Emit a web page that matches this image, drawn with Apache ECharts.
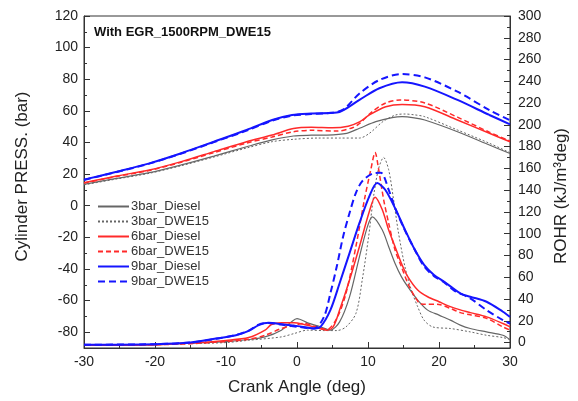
<!DOCTYPE html>
<html>
<head>
<meta charset="utf-8">
<script src="https://cdn.jsdelivr.net/npm/echarts@6/dist/echarts.min.js"></script>
<style>html,body{margin:0;padding:0;background:#fff}#c{width:578px;height:401px}</style>
</head>
<body>
<div id="c"></div>
<script>
// ---------- data ----------
var seriesNames = ['3bar_Diesel', '3bar_DWE15', '6bar_Diesel', '6bar_DWE15', '9bar_Diesel', '9bar_DWE15'];
var xTicks = [-30, -20, -10, 0, 10, 20, 30];
var pressTicks = [-80, -60, -40, -20, 0, 20, 40, 60, 80, 100, 120];
var pressMinorTicks = [-90, -70, -50, -30, -10, 10, 30, 50, 70, 90, 110];
var rohrTicks = [0, 20, 40, 60, 80, 100, 120, 140, 160, 180, 200, 220, 240, 260, 280, 300];
var rohrMinorTicks = [10, 30, 50, 70, 90, 110, 130, 150, 170, 190, 210, 230, 250, 270, 290];

// Cylinder pressure (bar) vs crank angle (deg)
var p3Diesel = [[-30,13.5],[-25.4,17.3],[-20.8,20.9],[-16.3,25.8],[-11.7,31.4],[-7.1,37.3],[-3.5,41.6],[-0.5,44.1],[2,44.6],[4.2,44.7],[7,45.8],[8.8,49],[11.1,53.2],[13.4,55.7],[14.8,56.3],[16.5,55.6],[18,54.2],[22.6,46.8],[27.1,38.4],[30,33]];
var p3DWE = [[-30,13.2],[-25.4,16.9],[-20.8,20.5],[-16.3,25.3],[-11.7,30.8],[-7.1,36.5],[-3.5,40.5],[-0.5,42],[3,42.8],[6,42.8],[8.8,42.8],[10.2,45.8],[12.1,53.2],[13.9,57.4],[15.2,58],[16.5,57.5],[18,56.3],[22.6,47.9],[27.1,39.5],[30,33.5]];
var p6Diesel = [[-30,14.5],[-25.4,18.8],[-20.8,22.6],[-16.3,27.9],[-11.7,34.2],[-7.1,40.5],[-3.5,44.7],[-0.5,48.8],[2,49.6],[5,49.3],[7.2,50.3],[8.8,53],[10.2,57.4],[12.5,62.6],[14.8,64.1],[18,62.6],[22.6,54.2],[27.1,45.8],[30,40.5]];
var p6DWE = [[-30,14.3],[-25.4,18.5],[-20.8,22.3],[-16.3,27.5],[-11.7,33.6],[-7.1,39.6],[-3.5,43.5],[-0.5,46.8],[2,47.7],[5.6,47.2],[7.9,49.5],[8.8,52],[10.6,59.5],[12.5,65],[14.5,66.9],[18,65],[22.6,56],[27.1,46.5],[30,41]];
var p9Diesel = [[-30,16.5],[-25.4,21.5],[-20.8,26.8],[-16.3,33.2],[-11.7,40.5],[-7.1,47.9],[-3.5,54.2],[-0.7,57.4],[2,58.3],[5.6,58.9],[8.8,67],[11.6,74.3],[14.8,78.1],[18,75.3],[22.6,66.9],[27.1,57.4],[30,51.5]];
var p9DWE = [[-30,16.3],[-25.4,21.3],[-20.8,26.6],[-16.3,33],[-11.7,40.2],[-7.1,47.5],[-3.5,53.8],[-0.7,57],[2,58],[4.5,58.6],[6.5,60.8],[8.8,71],[11.6,79.5],[14.8,83.3],[18,81.2],[22.6,72.1],[27.1,60.5],[30,54]];

// ROHR (kJ/m3deg) vs crank angle (deg)
var r3Diesel = [[-30,-2.5],[-20,-2],[-15,-0.5],[-10,0.8],[-6.8,2.8],[-4.5,5.2],[-2.2,11.4],[-0.8,19],[0,22],[1.5,18.1],[3.3,14.4],[4.7,11.4],[6,19],[7.4,42],[8.8,79],[9.9,106],[10.6,115.5],[12,103.7],[12.9,88.3],[13.8,72.9],[14.7,60.6],[15.6,51.3],[17,39],[18.4,29.8],[20,25.2],[21.6,20.6],[23,16],[24.4,12.9],[26.7,9.8],[29,6.7],[30,2.5]];
var r3DWE = [[-30,-2.5],[-20,-2],[-15,-1],[-10,0],[-6.8,2.1],[-2.2,5.2],[-0.4,8.3],[1.5,11.4],[3.8,11],[5.6,11],[6.9,14.4],[8.3,26.8],[9.2,58],[10.1,98],[10.8,135],[11.5,160],[12.2,170],[12.9,159],[13.6,131.4],[14.3,100.6],[15.2,69.8],[16.1,48.3],[17,32.9],[17.9,20.6],[19.1,14.4],[21.6,12.9],[24.4,9.8],[26.7,6.7],[29,4.6],[30,2.8]];
var r6Diesel = [[-30,-2.5],[-20,-2],[-15,-0.5],[-10,2],[-6.8,4.6],[-4.5,11.4],[-3.6,16.6],[-2.2,18.1],[-0.4,18.1],[1,16.6],[2.4,14.4],[4.2,11.4],[5.1,14.4],[6,29.8],[7.4,57.5],[8.8,88.3],[10.2,120.6],[11,133.5],[12,122.2],[12.9,103.7],[13.8,88.3],[14.7,72.9],[15.6,60.6],[17,48.3],[18.4,42.1],[20,37.5],[21.6,33],[23,30],[24.4,27.5],[26.7,23.6],[29,17.5],[30,14.4]];
var r6DWE = [[-30,-2.5],[-20,-2],[-15,-1],[-10,1],[-6.8,3],[-4.5,6.7],[-2.2,12.9],[-0.8,15.1],[1,17.5],[2.4,15.1],[4.2,12],[5.6,22.2],[6.9,45.2],[8.3,88.3],[9.5,131.4],[10.4,159],[11,174.5],[11.5,159],[12.2,131.4],[12.9,110],[13.8,85.2],[14.7,69.8],[15.6,54.5],[16.6,42.1],[17.5,35.4],[20,35],[21.6,31.4],[23,27.5],[24.4,25.5],[26.7,22.2],[29,14.4],[30,11.4]];
var r9Diesel = [[-30,-2],[-20,-1.5],[-15,0],[-11.4,3.7],[-8.6,6.7],[-6.8,10.7],[-5.4,16],[-4,18.1],[-2.2,16.9],[0.1,15.1],[2.4,12.9],[3.3,14.4],[4.7,29.8],[6,54.5],[7.4,82.2],[8.8,109.9],[10.2,134.5],[11.3,146.5],[12.4,140.6],[13.8,123.7],[15.2,103.7],[16.6,85.2],[17.9,71.4],[19.3,62.1],[20.7,56],[23,45.2],[24.4,42.1],[26.7,37.5],[29,28.3],[30,23.6]];
var r9DWE = [[-30,-2],[-20,-1.5],[-15,0],[-11.4,3.5],[-8.6,7],[-6.8,11],[-5.4,16.5],[-4,18],[-2.2,16.5],[0.1,14.5],[2.4,12.9],[3.8,23.6],[4.7,45.2],[5.6,69.8],[6.5,97.5],[7.4,119],[8.3,137.6],[9.2,148.3],[10.6,155.1],[11.8,156],[12.9,140.6],[13.8,124],[15.2,103],[16.6,85],[17.9,70],[19.3,61],[20.7,55.5],[22.1,48],[24.4,40.6],[26.7,29.8],[29,20.6],[30,17.5]];

// ---------- styles ----------
var styles = [
  {color:'#666666', width:1.2, type:'solid'},
  {color:'#666666', width:1, type:[2,2]},
  {color:'#ff2a2a', width:1.5, type:'solid'},
  {color:'#ff2a2a', width:1.5, type:[5,3]},
  {color:'#1515ff', width:2, type:'solid'},
  {color:'#1515ff', width:2, type:[7,4]}
];
var pressData = [p3Diesel, p3DWE, p6Diesel, p6DWE, p9Diesel, p9DWE];
var rohrData = [r3Diesel, r3DWE, r6Diesel, r6DWE, r9Diesel, r9DWE];

var series = [];
function mk(name, data, st, yIdx) {
  return {
    name: name, type: 'line', data: data, xAxisIndex: 0, yAxisIndex: yIdx,
    showSymbol: false, symbol: 'none', smooth: 0.3, animation: false,
    lineStyle: {color: st.color, width: st.width, type: st.type},
    itemStyle: {color: st.color}
  };
}
for (var i = 0; i < 6; i++) series.push(mk(seriesNames[i], rohrData[i], styles[i], 1));
for (var j = 0; j < 6; j++) series.push(mk(seriesNames[j], pressData[j], styles[j], 0));

var axisCol = '#333';
var labelFont = {fontFamily: 'Liberation Sans, Arial, sans-serif', fontSize: 14, color: '#222'};
var nameFont = {fontFamily: 'Liberation Sans, Arial, sans-serif', fontSize: 17, color: '#222'};

var chart = echarts.init(document.getElementById('c'), null, {renderer: 'canvas'});
chart.setOption({
  animation: false,
  backgroundColor: '#fff',
  title: {
    text: 'With EGR_1500RPM_DWE15', left: 94, top: 26, padding: 0,
    textStyle: {fontFamily: 'Liberation Sans, Arial, sans-serif', fontSize: 13, fontWeight: 'bold', color: '#111'}
  },
  legend: {
    data: seriesNames, orient: 'vertical', left: 97, top: 200, padding: 0,
    itemWidth: 31, itemHeight: 14, itemGap: 2,
    itemStyle: {opacity: 0},
    textStyle: {fontFamily: 'Liberation Sans, Arial, sans-serif', fontSize: 13, color: '#333', padding: [0, 0, 0, -3]}
  },
  grid: {left: 84, right: 57, top: 16, bottom: 53, show: true, borderColor: axisCol, borderWidth: 1},
  xAxis: [{
    type: 'value', min: -30, max: 30, interval: 10,
    name: 'Crank Angle (deg)', nameLocation: 'middle', nameGap: 31, nameTextStyle: nameFont,
    axisLine: {show: true, onZero: false, lineStyle: {color: axisCol}},
    axisTick: {show: true, inside: true, length: 6, lineStyle: {color: axisCol}},
    minorTick: {show: true, splitNumber: 2, length: 3, lineStyle: {color: axisCol}},
    axisLabel: Object.assign({margin: 7, customValues: xTicks}, labelFont),
    splitLine: {show: false}
  }],
  yAxis: [{
    type: 'value', position: 'left', min: -90, max: 120,
    name: 'Cylinder PRESS. (bar)', nameLocation: 'middle', nameGap: 53,
    nameTextStyle: Object.assign({padding: [0, 0, 0, 11]}, nameFont),
    axisLine: {show: true, onZero: false, lineStyle: {color: axisCol}},
    axisTick: {show: true, inside: true, length: 6, customValues: pressTicks, lineStyle: {color: axisCol}},
    axisLabel: Object.assign({margin: 6, customValues: pressTicks}, labelFont),
    splitLine: {show: false}
  }, {
    type: 'value', position: 'right', min: -5, max: 300,
    name: 'ROHR (kJ/m\u00B3deg)', nameLocation: 'middle', nameGap: 43,
    nameTextStyle: Object.assign({padding: [0, 28, 0, 0]}, nameFont),
    axisLine: {show: true, onZero: false, lineStyle: {color: axisCol}},
    axisTick: {show: true, inside: true, length: 6, customValues: rohrTicks, lineStyle: {color: axisCol}},
    axisLabel: Object.assign({margin: 8, customValues: rohrTicks}, labelFont),
    splitLine: {show: false}
  }, {
    type: 'value', position: 'left', min: -90, max: 120,
    axisLine: {show: false, onZero: false},
    axisTick: {show: true, inside: true, length: 3, customValues: pressMinorTicks, lineStyle: {color: axisCol}},
    axisLabel: {show: false}, splitLine: {show: false}
  }, {
    type: 'value', position: 'right', min: -5, max: 300,
    axisLine: {show: false, onZero: false},
    axisTick: {show: true, inside: true, length: 3, customValues: rohrMinorTicks, lineStyle: {color: axisCol}},
    axisLabel: {show: false}, splitLine: {show: false}
  }],
  series: series
});
</script>
</body>
</html>
